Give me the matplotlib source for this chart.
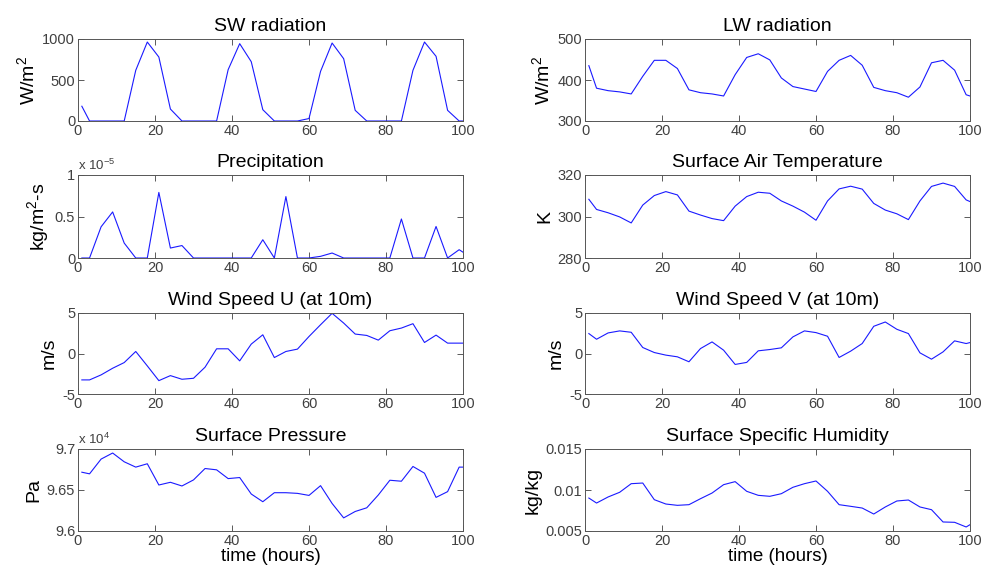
import matplotlib
matplotlib.use("Agg")
import matplotlib.pyplot as plt

plt.rcParams['font.family'] = ['Liberation Sans', 'DejaVu Sans']
plt.rcParams['mathtext.fontset'] = 'custom'
plt.rcParams['mathtext.rm'] = 'Liberation Sans'
plt.rcParams['mathtext.it'] = 'Liberation Sans'

# time axis (hours)
hours = [1, 3, 6, 9, 12, 15, 18, 21, 24, 27, 30, 33, 36, 39, 42, 45, 48, 51, 54,
         57, 60, 63, 66, 69, 72, 75, 78, 81, 84, 87, 90, 93, 96, 99, 100]

sw_rad = [180, 0, 0, 0, 0, 618, 963, 780, 146, 0, 0, 0, 0, 626, 943, 723, 138, 0, 0,
          0, 30, 605, 951, 760, 130, 0, 0, 0, 0, 618, 963, 789, 130, 0, 0]

lw_rad = [435, 380, 374, 371, 366, 409, 448, 448, 428, 376, 369, 366, 361, 413, 455,
          464, 449, 405, 384, 378, 372, 421, 448, 460, 436, 382, 374, 369, 358, 383,
          442, 448, 424, 364, 361]

precip = [0, 0, 0.376e-5, 0.555e-5, 0.18e-5, 0, 0, 0.79e-5, 0.12e-5, 0.15e-5, 0, 0, 0, 0,
          0, 0, 0.22e-5, 0, 0.74e-5, 0, 0, 0.02e-5, 0.06e-5, 0, 0, 0, 0, 0, 0.47e-5, 0,
          0, 0.38e-5, 0, 0.10e-5, 0.07e-5]

air_temp = [308.3, 303.4, 301.8, 299.8, 296.9, 305.5, 310.1, 312.0, 310.4, 302.6,
            300.7, 299.0, 298.0, 305.0, 309.6, 311.7, 311.2, 307.5, 305.0, 302.1,
            298.2, 307.5, 313.3, 314.6, 313.2, 306.3, 303.1, 301.3, 298.5, 307.5,
            314.5, 316.1, 314.5, 308.0, 307.2]

wind_u = [-3.26, -3.26, -2.64, -1.82, -1.12, 0.25, -1.53, -3.35, -2.73, -3.18, -3.06,
          -1.69, 0.58, 0.58, -0.91, 1.16, 2.31, -0.5, 0.25, 0.54, 2.1, 3.55, 4.96,
          3.76, 2.4, 2.23, 1.65, 2.81, 3.14, 3.68, 1.36, 2.27, 1.28, 1.28, 1.28]

wind_v = [2.46, 1.76, 2.54, 2.79, 2.62, 0.74, 0.12, -0.2, -0.41, -1.02, 0.61, 1.43,
          0.41, -1.35, -1.1, 0.33, 0.49, 0.7, 2.05, 2.79, 2.58, 2.13, -0.49, 0.29,
          1.23, 3.36, 3.89, 2.99, 2.46, 0.08, -0.7, 0.2, 1.56, 1.23, 1.35]

pressure = [96717, 96697, 96877, 96951, 96844, 96779, 96820, 96561, 96594, 96549,
            96623, 96762, 96746, 96639, 96652, 96451, 96357, 96467, 96467, 96459,
            96434, 96553, 96336, 96160, 96238, 96283, 96439, 96619, 96607, 96787,
            96705, 96410, 96480, 96779, 96779]

humidity = [0.00902, 0.00841, 0.00915, 0.00972, 0.01077, 0.01085, 0.00882, 0.00829,
            0.00813, 0.00821, 0.00894, 0.00963, 0.01065, 0.01102, 0.00984, 0.00935,
            0.00923, 0.00955, 0.01033, 0.01077, 0.0111, 0.00984, 0.00821, 0.00801,
            0.0078, 0.00707, 0.00793, 0.00866, 0.00878, 0.00793, 0.0076, 0.0061,
            0.00606, 0.00549, 0.00577]

titles = ['SW radiation', 'LW radiation', 'Precipitation', 'Surface Air Temperature',
          'Wind Speed U (at 10m)', 'Wind Speed V (at 10m)', 'Surface Pressure',
          'Surface Specific Humidity']
ylabels = ['W/m$^2$', 'W/m$^2$', 'kg/m$^2$-s', 'K', 'm/s', 'm/s', 'Pa', 'kg/kg']
series = [sw_rad, lw_rad, precip, air_temp, wind_u, wind_v, pressure, humidity]
ylims = [(0, 1000), (300, 500), (0, 1e-5), (280, 320), (-5, 5), (-5, 5),
         (96000, 97000), (0.005, 0.015)]
yticks = [[0, 500, 1000], [300, 400, 500], [0, 0.5e-5, 1e-5], [280, 300, 320],
          [-5, 0, 5], [-5, 0, 5], [96000, 96500, 97000], [0.005, 0.01, 0.015]]
ytick_labels = [['0', '500', '1000'], ['300', '400', '500'], ['0', '0.5', '1'],
                ['280', '300', '320'], ['-5', '0', '5'], ['-5', '0', '5'],
                ['9.6', '9.65', '9.7'], ['0.005', '0.01', '0.015']]
multipliers = [None, None, 'x 10$^{-5}$', None, None, None, 'x 10$^{4}$', None]
xticks = [0, 20, 40, 60, 80, 100]

fig = plt.figure(figsize=(9.84, 5.71), dpi=100)
W, H = 984.0, 571.0
cols_px = [78, 585]
width_px = 385
rows_px = [(39, 121), (175, 258), (313, 394), (449, 531)]

tick_col = '#404040'
for i in range(8):
    r, c = divmod(i, 2)
    top, bot = rows_px[r]
    ax = fig.add_axes([cols_px[c] / W, 1 - bot / H, width_px / W, (bot - top) / H])
    ax.plot(hours, series[i], color='#1a1aff', lw=0.8)
    ax.set_xlim(0, 100)
    ax.set_ylim(*ylims[i])
    ax.set_xticks(xticks)
    ax.set_yticks(yticks[i])
    ax.set_yticklabels(ytick_labels[i])
    ax.tick_params(direction='in', top=True, right=True, length=4, width=0.6,
                   labelsize=10.5, colors=tick_col, pad=2)
    for s in ax.spines.values():
        s.set_color('#555555')
        s.set_linewidth(0.7)
    ax.set_title(titles[i], fontsize=14, pad=6)
    ax.set_ylabel(ylabels[i], fontsize=14, labelpad=3)
    if multipliers[i]:
        ax.text(0.0, 1.03, multipliers[i], transform=ax.transAxes, fontsize=9.5,
                color=tick_col, ha='left', va='bottom')
    if r == 3:
        ax.set_xlabel('time (hours)', fontsize=13.5, labelpad=0)

fig.savefig('out.png', dpi=100)
